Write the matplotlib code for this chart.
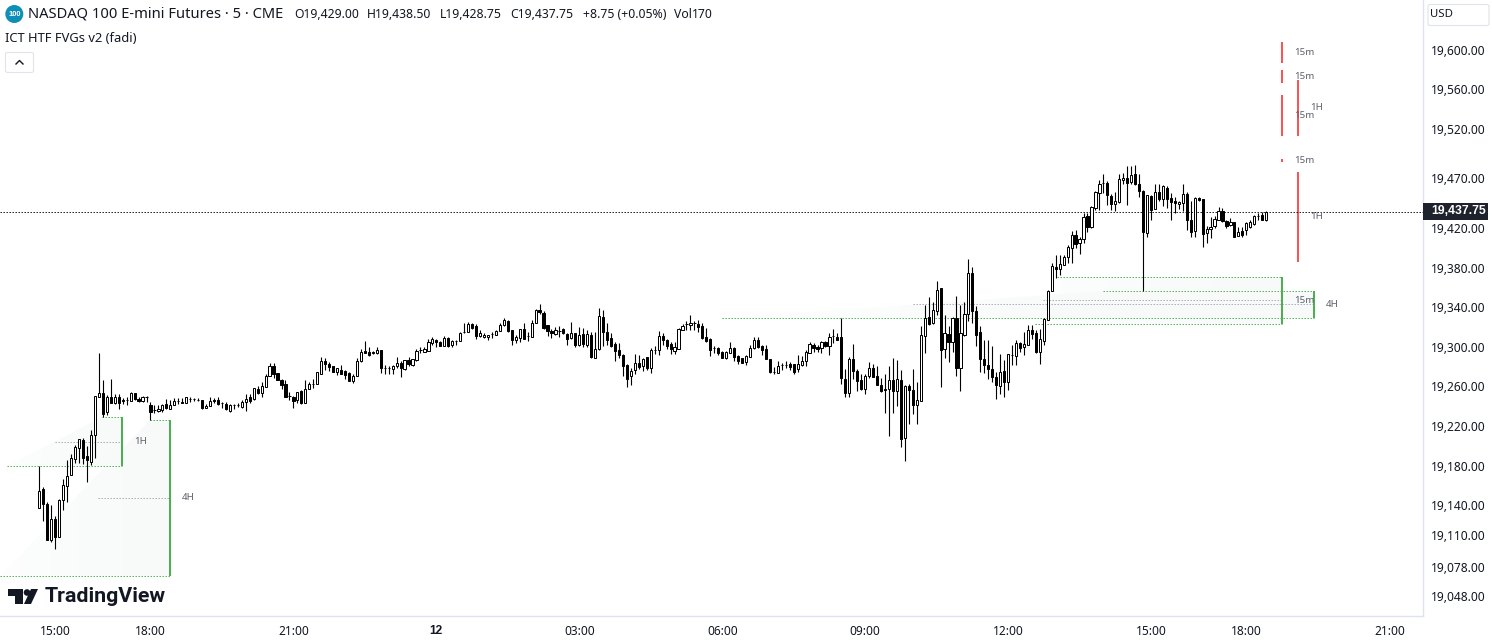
import matplotlib
matplotlib.use("Agg")
import matplotlib.pyplot as plt
import numpy as np
from matplotlib.patches import Polygon, Ellipse, FancyBboxPatch, Rectangle
from matplotlib.transforms import ScaledTranslation

plt.rcParams['font.family'] = ['Noto Sans', 'DejaVu Sans']

# 5 minute bars
opens = [19138,19158,19142,19106,19127,19109,19146,19161,19172,19188,19199,19207,19191,19185,19212,19250,19255,19235,19250,19244,
19250,19247,19247,19246,19255,19248,19246,19250,19242,19237,19236,19237,19243,19238,19242,19246,19245,19244,19248,19248,
19247,19247,19239,19241,19247,19247,19244,19243,19236,19242,19242,19240,19245,19250,19248,19259,19255,19261,19272,19282,
19275,19268,19264,19252,19251,19247,19257,19244,19259,19264,19264,19274,19287,19284,19282,19276,19278,19277,19275,19267,
19272,19287,19297,19296,19296,19295,19298,19280,19280,19279,19282,19285,19279,19288,19283,19288,19298,19296,19297,19305,
19308,19306,19302,19310,19303,19307,19307,19316,19316,19324,19322,19312,19311,19311,19314,19313,19317,19323,19327,19318,
19308,19310,19319,19312,19311,19325,19338,19335,19323,19317,19314,19317,19319,19314,19310,19315,19303,19314,19303,19313,
19290,19299,19331,19316,19310,19304,19298,19293,19283,19272,19278,19285,19282,19291,19280,19298,19298,19312,19308,19304,
19297,19299,19318,19324,19323,19325,19324,19322,19311,19309,19300,19300,19296,19290,19295,19300,19292,19290,19286,19291,
19300,19308,19302,19299,19289,19276,19275,19283,19283,19284,19284,19279,19283,19287,19295,19303,19301,19300,19306,19302,
19312,19311,19311,19269,19255,19289,19277,19268,19259,19272,19280,19272,19263,19259,19259,19268,19257,19268,19209,19262,
19258,19242,19246,19312,19331,19325,19337,19361,19299,19314,19306,19330,19280,19313,19334,19376,19337,19316,19289,19283,
19279,19271,19262,19277,19266,19293,19292,19305,19301,19303,19318,19315,19296,19307,19328,19358,19382,19380,19384,19392,
19401,19414,19406,19410,19433,19422,19441,19457,19467,19467,19454,19445,19447,19470,19472,19468,19476,19466,19459,19416,
19454,19440,19458,19451,19462,19452,19448,19445,19446,19456,19429,19418,19452,19450,19416,19420,19423,19429,19438,19428,
19424,19427,19413,19418,19419,19422,19425,19433,19434,19429]
highs = [19181,19160,19144,19141,19130,19147,19168,19187,19193,19202,19208,19209,19201,19217,19252,19295,19268,19253,19269,19254,
19254,19249,19251,19256,19255,19250,19252,19252,19245,19242,19242,19243,19248,19247,19249,19249,19249,19250,19250,19249,
19249,19247,19243,19250,19249,19250,19245,19245,19243,19243,19244,19247,19254,19254,19260,19262,19266,19274,19285,19285,
19275,19269,19268,19256,19252,19256,19258,19268,19266,19269,19276,19291,19290,19286,19282,19280,19283,19278,19276,19274,
19290,19299,19307,19301,19297,19301,19298,19283,19282,19283,19291,19287,19288,19291,19289,19299,19301,19301,19309,19311,
19309,19307,19312,19311,19308,19308,19316,19325,19326,19325,19324,19318,19315,19313,19316,19318,19325,19330,19328,19318,
19313,19319,19325,19316,19328,19339,19344,19337,19323,19319,19321,19322,19320,19315,19326,19315,19321,19320,19318,19316,
19316,19340,19338,19325,19315,19306,19305,19294,19284,19280,19294,19293,19290,19291,19300,19302,19317,19315,19309,19306,
19306,19320,19324,19327,19333,19327,19328,19325,19320,19310,19302,19301,19297,19297,19306,19301,19293,19290,19293,19303,
19311,19311,19303,19303,19289,19281,19287,19285,19287,19286,19284,19293,19292,19298,19306,19305,19303,19307,19307,19315,
19319,19315,19330,19279,19291,19304,19279,19274,19274,19286,19284,19282,19270,19274,19282,19290,19288,19278,19263,19264,
19279,19266,19322,19343,19352,19346,19368,19361,19333,19322,19331,19353,19343,19346,19390,19382,19342,19322,19308,19308,
19302,19276,19294,19288,19294,19303,19308,19306,19316,19323,19323,19318,19319,19330,19359,19386,19394,19394,19394,19404,
19418,19419,19412,19436,19436,19443,19459,19470,19476,19469,19456,19458,19476,19477,19484,19484,19485,19476,19460,19455,
19455,19466,19466,19465,19464,19457,19453,19448,19466,19458,19448,19453,19453,19450,19423,19432,19433,19442,19441,19429,
19431,19427,19422,19422,19427,19429,19434,19436,19437,19438.5]
lows = [19138,19125,19106,19104,19097,19109,19136,19144,19172,19184,19184,19183,19165,19182,19189,19250,19230,19232,19244,19243,
19238,19243,19242,19246,19247,19245,19245,19245,19227,19234,19235,19235,19238,19238,19242,19243,19244,19244,19245,19246,
19246,19238,19239,19241,19244,19242,19239,19237,19235,19238,19240,19239,19236,19244,19247,19254,19251,19261,19272,19270,
19268,19259,19250,19247,19239,19244,19243,19244,19259,19260,19264,19274,19278,19277,19276,19273,19274,19269,19267,19265,
19272,19286,19295,19292,19294,19294,19275,19274,19274,19274,19280,19271,19278,19282,19282,19287,19295,19296,19297,19303,
19301,19302,19302,19301,19301,19303,19307,19315,19316,19319,19309,19311,19310,19308,19310,19313,19317,19322,19316,19303,
19305,19306,19309,19307,19311,19325,19334,19319,19312,19310,19313,19311,19314,19303,19309,19301,19302,19301,19301,19290,
19290,19298,19302,19303,19301,19287,19290,19272,19261,19263,19274,19279,19277,19278,19275,19294,19293,19303,19299,19294,
19294,19299,19318,19318,19318,19318,19316,19309,19306,19292,19295,19293,19290,19289,19295,19287,19284,19285,19283,19291,
19299,19300,19293,19289,19275,19274,19275,19278,19280,19278,19274,19276,19282,19282,19295,19296,19296,19295,19301,19293,
19305,19308,19264,19251,19250,19269,19257,19258,19254,19270,19271,19263,19256,19234,19211,19234,19241,19200,19186,19223,
19233,19223,19246,19295,19323,19324,19333,19261,19290,19286,19296,19272,19257,19312,19327,19325,19302,19276,19275,19269,
19266,19248,19254,19250,19258,19283,19283,19296,19293,19303,19309,19295,19284,19303,19328,19358,19371,19374,19384,19386,
19386,19401,19395,19406,19417,19421,19439,19439,19457,19444,19439,19438,19446,19466,19444,19466,19465,19453,19358,19412,
19429,19440,19448,19443,19441,19429,19436,19440,19438,19419,19412,19412,19448,19402,19406,19411,19421,19429,19427,19421,
19423,19412,19413,19412,19414,19421,19424,19429,19429,19428.75]
closes = [19156,19142,19106,19127,19109,19146,19162,19171,19189,19200,19208,19189,19187,19212,19252,19255,19233,19250,19244,19250,
19244,19246,19247,19255,19248,19246,19250,19250,19235,19237,19238,19242,19239,19242,19246,19246,19244,19250,19248,19248,
19247,19239,19241,19246,19246,19243,19244,19238,19242,19242,19242,19245,19248,19246,19260,19255,19262,19272,19282,19274,
19268,19263,19251,19252,19246,19256,19244,19259,19264,19264,19276,19287,19284,19281,19276,19280,19274,19273,19267,19272,
19287,19296,19295,19293,19295,19298,19280,19280,19280,19282,19285,19280,19288,19284,19289,19297,19298,19299,19306,19309,
19306,19302,19310,19302,19307,19307,19315,19316,19324,19320,19312,19315,19313,19313,19314,19317,19323,19328,19317,19308,
19311,19319,19309,19312,19325,19338,19336,19320,19317,19315,19318,19317,19315,19309,19315,19303,19313,19304,19314,19291,
19299,19332,19316,19308,19302,19297,19293,19282,19269,19277,19285,19281,19289,19280,19298,19298,19312,19308,19302,19299,
19301,19319,19322,19324,19325,19325,19321,19310,19307,19298,19300,19295,19290,19296,19300,19291,19287,19285,19292,19300,
19308,19301,19298,19289,19276,19276,19282,19283,19283,19281,19276,19284,19287,19296,19304,19300,19299,19306,19302,19311,
19312,19308,19270,19255,19289,19277,19267,19259,19272,19280,19271,19263,19257,19258,19268,19257,19269,19208,19262,19258,
19242,19247,19313,19330,19324,19338,19359,19298,19315,19306,19330,19280,19315,19334,19376,19337,19313,19289,19283,19279,
19271,19263,19276,19266,19294,19293,19305,19300,19304,19318,19314,19296,19309,19329,19358,19383,19380,19385,19392,19402,
19414,19405,19410,19432,19422,19442,19458,19466,19467,19455,19445,19448,19471,19472,19467,19475,19466,19459,19417,19455,
19439,19458,19451,19464,19451,19447,19446,19447,19456,19429,19417,19452,19449,19415,19420,19422,19430,19438,19428,19423,
19427,19412,19417,19414,19426,19427,19433,19433,19429,19437.75]

# time axis labels (bar index -> text)
time_ticks = [4, 28, 64, 100, 136, 172, 208, 244, 280, 304, 340]
time_labels = ["15:00", "18:00", "21:00", "12", "03:00", "06:00", "09:00", "12:00", "15:00", "18:00", "21:00"]
price_ticks = [19600, 19560, 19520, 19470, 19420, 19380, 19340, 19300, 19260, 19220, 19180, 19140, 19110, 19078, 19048]
last_price = 19437.75

# bullish gaps
bull_end = [20.8, 32.9, 313, 321]
bull_top = [19230, 19227, 19372, 19358]
bull_bottom = [19181, 19070, 19324, 19330]
bull_top_start = [15.8, 27.9, 256.3, 267.9]
bull_bottom_start = [-8.1, -10, 250.8, 172]
bull_mid_start = [4, 14.8, 252.8, 220.1]
bull_label = ["1H", "4H", "15m", "4H"]
bull_label_x = [25.4, 37.5, 318.5, 325.6]

# bearish gaps
bear_x = [313, 313, 313, 313, 317, 317]
bear_top = [19609, 19581, 19556, 19491, 19571, 19478]
bear_bottom = [19588, 19568, 19514, 19488, 19514, 19387]
bear_label = ["15m", "15m", "15m", "15m", "1H", "1H"]
bear_label_x = [318.5, 318.5, 318.5, 318.5, 321.8, 321.8]

W, H = 1492, 641
GREEN = "#4caf50"
RED = "#ff5252"
TEXT = "#131722"
GRID = "#e0e3eb"
DOT = (0, (1.4, 1.6))


def fx(x):
    return x / W


def fy(y):
    return 1 - y / H


fig = plt.figure(figsize=(W / 100, H / 100), dpi=100, facecolor="white")
ax = fig.add_axes([0, 1 - 616 / H, 1423 / W, 616 / H])

# faint gap fill, fading out to the left
fade = np.ones((1, 64, 4))
fade[..., :3] = (0.972, 0.984, 0.977)
fade[..., 3] = np.linspace(0.3, 1, 64)

for i in range(len(bull_end)):
    start = min(bull_bottom_start[i], bull_top_start[i])
    im = ax.imshow(fade, extent=(start, bull_end[i], bull_bottom[i], bull_top[i]), aspect="auto", zorder=1)
    clip = Polygon([(bull_bottom_start[i], bull_bottom[i]), (bull_end[i], bull_bottom[i]),
                    (bull_end[i], bull_top[i]), (bull_top_start[i], bull_top[i])],
                   closed=True, transform=ax.transData)
    im.set_clip_path(clip)
    mid = (bull_top[i] + bull_bottom[i]) / 2
    ax.plot([bull_top_start[i], bull_end[i]], [bull_top[i]] * 2, color=GREEN, lw=0.72, ls=DOT, zorder=2)
    ax.plot([bull_bottom_start[i], bull_end[i]], [bull_bottom[i]] * 2, color=GREEN, lw=0.72, ls=DOT, zorder=2)
    ax.plot([bull_mid_start[i], bull_end[i]], [mid] * 2, color="#a8abb5", lw=0.72, ls=DOT, zorder=2)
    ax.plot([bull_end[i]] * 2, [bull_bottom[i], bull_top[i]], color=GREEN, lw=1.44, solid_capstyle="butt", zorder=3)
    ax.text(bull_label_x[i], mid, bull_label[i], color="#5d606b", fontsize=7, ha="center", va="center", zorder=5)

for i in range(len(bear_x)):
    mid = (bear_top[i] + bear_bottom[i]) / 2
    ax.plot([bear_x[i]] * 2, [bear_bottom[i], bear_top[i]], color=RED, lw=1.44, solid_capstyle="butt", zorder=3)
    ax.text(bear_label_x[i], mid, bear_label[i], color="#5d606b", fontsize=7, ha="center", va="center", zorder=5)

# candles
bars = list(range(len(opens)))
ax.vlines(bars, lows, highs, color="black", lw=0.8, zorder=4)
body_low = [min(o, c) for o, c in zip(opens, closes)]
body_h = [abs(o - c) for o, c in zip(opens, closes)]
face = ["white" if c >= o else "black" for o, c in zip(opens, closes)]
ax.bar(bars, body_h, bottom=body_low, width=0.55, color=face, edgecolor="black", linewidth=0.72, zorder=4.5)

# last price line
ax.axhline(last_price, color=TEXT, lw=0.72, ls=DOT, zorder=3.5)

ax.set_xlim(-9.9, 348.5)
ax.set_ylim(19029.3, 19651.5)

# axes
for s in ["top", "left"]:
    ax.spines[s].set_visible(False)
for s in ["right", "bottom"]:
    ax.spines[s].set_color(GRID)
    ax.spines[s].set_linewidth(1)
ax.yaxis.tick_right()
ax.set_yticks(price_ticks)
ax.set_yticklabels([f"{p:,.2f}" for p in price_ticks], fontsize=8.6, color=TEXT)
ax.set_xticks(time_ticks)
ax.set_xticklabels(time_labels, fontsize=8.6, color=TEXT)
ax.get_xticklabels()[3].set_family("Liberation Sans")
ax.get_xticklabels()[3].set_fontweight("bold")
ax.tick_params(axis="both", length=0)
ax.tick_params(axis="y", pad=5.5)
ax.tick_params(axis="x", pad=6.5)
nudge = ScaledTranslation(0, 1.2 / 100, fig.dpi_scale_trans)
for t in ax.get_yticklabels():
    t.set_transform(t.get_transform() + nudge)

# last price tag
fig.add_artist(Rectangle((fx(1423), fy(220)), 65 / W, 17 / H, transform=fig.transFigure,
                         facecolor="#1e222d", edgecolor="none", zorder=6))
fig.text(fx(1431), fy(211.5), f"{last_price:,.2f}", color="white", fontsize=8.8, fontweight="bold",
         family="Liberation Sans", ha="left", va="center", zorder=7)

# USD box
fig.add_artist(FancyBboxPatch((fx(1428), fy(25.5)), 61 / W, 21 / H,
                              boxstyle="round,pad=0,rounding_size=0.002",
                              transform=fig.transFigure, facecolor="white", edgecolor=GRID, lw=0.8))
fig.text(fx(1430), fy(14.5), "USD", color=TEXT, fontsize=8.2, ha="left", va="center")

# header
fig.add_artist(Ellipse((fx(14.3), fy(14)), 18 / W, 18 / H, transform=fig.transFigure,
                       facecolor="#0f8fb8", edgecolor="none"))
fig.text(fx(14.3), fy(14), "100", color="white", fontsize=5.4, fontweight="bold",
         family="Liberation Sans", ha="center", va="center")
fig.text(fx(28), fy(14), "NASDAQ 100 E-mini Futures · 5 · CME", color=TEXT, fontsize=10.6, ha="left", va="center")
legend_x = [294, 367, 440, 510]
legend_lab = ["O", "H", "L", "C"]
legend_val = ["19,429.00", "19,438.50", "19,428.75", "19,437.75"]
for x, a, b in zip(legend_x, legend_lab, legend_val):
    fig.text(fx(x), fy(14.5), a + b, color=TEXT, fontsize=8.8, ha="left", va="center")
fig.text(fx(583), fy(14.5), "+8.75 (+0.05%)", color=TEXT, fontsize=8.8, ha="left", va="center")
fig.text(fx(674), fy(14.5), "Vol", color=TEXT, fontsize=8.8, ha="left", va="center")
fig.text(fx(692), fy(14.5), "170", color=TEXT, fontsize=8.8, ha="left", va="center")
fig.text(fx(5), fy(38.5), "ICT HTF FVGs v2 (fadi)", color=TEXT, fontsize=9.3, ha="left", va="center")

# collapse button
fig.add_artist(FancyBboxPatch((fx(5.5), fy(72.5)), 28 / W, 20 / H,
                              boxstyle="round,pad=0,rounding_size=0.002",
                              transform=fig.transFigure, facecolor="white", edgecolor=GRID, lw=0.8))
fig.add_artist(plt.Line2D([fx(16), fx(19.5), fx(23)], [fy(64), fy(60.5), fy(64)], color=TEXT, lw=1,
                          transform=fig.transFigure))

# TradingView logo
logo = "#131722"
fig.add_artist(Polygon([(fx(8), fy(589)), (fx(23), fy(589)), (fx(23), fy(604)), (fx(15), fy(604)),
                        (fx(15), fy(596)), (fx(8), fy(596))], closed=True, transform=fig.transFigure,
                       facecolor=logo, edgecolor="none"))
fig.add_artist(Polygon([(fx(31), fy(589)), (fx(38), fy(589)), (fx(31), fy(604)), (fx(24), fy(604))],
                       closed=True, transform=fig.transFigure, facecolor=logo, edgecolor="none"))
fig.add_artist(Ellipse((fx(27), fy(592.5)), 6.6 / W, 6.6 / H, transform=fig.transFigure,
                       facecolor=logo, edgecolor="none"))
fig.text(fx(45), fy(597), "TradingView", color=logo, fontsize=15.4, fontweight="bold",
         family="Roboto", ha="left", va="center")

fig.savefig("out.png", dpi=100)
